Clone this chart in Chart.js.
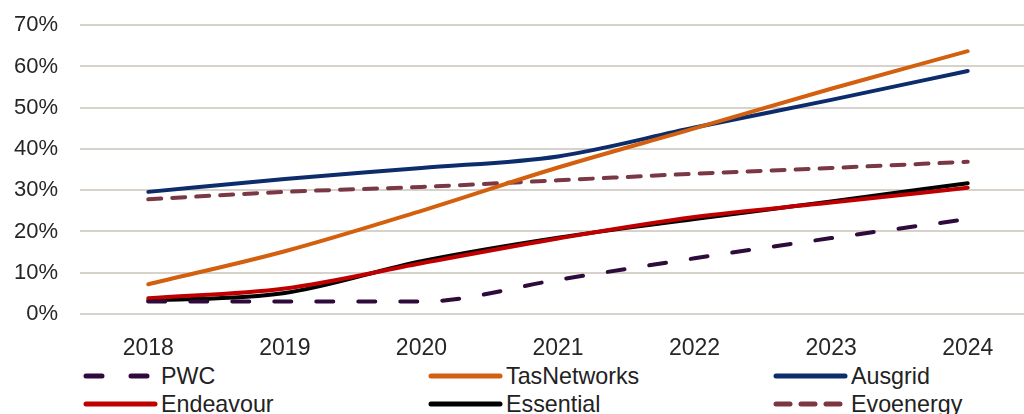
<!DOCTYPE html>
<html>
<head>
<meta charset="utf-8">
<script src="https://cdn.jsdelivr.net/npm/chart.js@4"></script>
<style>
  html, body { margin: 0; padding: 0; background: #fff; overflow: hidden; }
  #wrap { position: relative; width: 1040px; height: 414px; }
  #box { position: absolute; left: 0; top: -10px; width: 1040px; height: 370px; }
  .lg { position: absolute; height: 24px; font-family: 'Liberation Sans', Arial, sans-serif;
        font-size: 24px; color: #222; line-height: 24px; white-space: nowrap; }
  .lg svg { position: absolute; left: 0; top: 0; }
  .lg span { position: absolute; top: 0; transform: scaleX(0.97); transform-origin: left center; }
</style>
</head>
<body>
<div id="wrap">
  <div id="box"><canvas id="lineChart"></canvas></div>
  <div id="legend"></div>
</div>
<script>
// Years on the x axis
const years = ['2018', '2019', '2020', '2021', '2022', '2023', '2024'];

// Series values (%)
const pwc        = [3.0, 3.0, 3.0, 8.3, 13.5, 18.4, 23.0];
const tasNetworks = [7.2, 15.2, 25.0, 35.5, 45.0, 54.6, 63.7];
const ausgrid    = [29.6, 32.7, 35.4, 38.2, 45.2, 51.9, 58.9];
const endeavour  = [3.8, 6.2, 12.3, 18.3, 23.5, 27.0, 30.6];
const essential  = [3.2, 5.1, 12.8, 18.5, 23.0, 27.3, 31.7];
const evoenergy  = [27.8, 29.6, 30.8, 32.4, 34.0, 35.4, 36.9];

// y axis ticks
const yTicks = [0, 10, 20, 30, 40, 50, 60, 70];

const series = [
    { label: 'PWC', data: pwc, color: '#2E0B3B', dash: [17, 25] },
    { label: 'TasNetworks', data: tasNetworks, color: '#D2600E', dash: [] },
    { label: 'Ausgrid', data: ausgrid, color: '#0C2C6C', dash: [] },
    { label: 'Endeavour', data: endeavour, color: '#C00000', dash: [] },
    { label: 'Essential', data: essential, color: '#000000', dash: [] },
    { label: 'Evoenergy', data: evoenergy, color: '#7A3845', dash: [13, 11] }
];

const fontFamily = "'Liberation Sans', Arial, sans-serif";

new Chart(document.getElementById('lineChart'), {
    type: 'line',
    data: {
        labels: years,
        datasets: series.map(s => ({
            label: s.label,
            data: s.data,
            borderColor: s.color,
            backgroundColor: s.color,
            borderWidth: 4,
            borderDash: s.dash,
            borderCapStyle: 'round',
            pointRadius: 0,
            cubicInterpolationMode: 'monotone',
            fill: false
        }))
    },
    options: {
        responsive: true,
        maintainAspectRatio: false,
        animation: false,
        layout: { padding: { top: 12, right: 4, left: 0, bottom: 0 } },
        plugins: {
            legend: { display: false },
            tooltip: { enabled: false }
        },
        scales: {
            x: {
                offset: true,
                grid: { display: false },
                border: { display: false },
                ticks: { font: { family: fontFamily, size: 23 }, color: '#262626', padding: 13, maxRotation: 0 },
                afterFit: function(scale) { scale.height = 46; }
            },
            y: {
                min: 0,
                max: 70,
                afterBuildTicks: function(scale) {
                    scale.ticks = yTicks.map(v => ({ value: v }));
                },
                grid: { color: '#D8D2CC', lineWidth: 2, drawTicks: false },
                border: { display: false },
                ticks: {
                    font: { family: fontFamily, size: 22 },
                    color: '#262626',
                    padding: 22,
                    callback: function(value) { return value + '%'; }
                },
                afterFit: function(scale) { scale.width = 80; }
            }
        }
    }
});

// Legend laid out in three columns, two rows
const legendCols = [83, 428, 773];
const legendRows = [364, 392];
const legendEl = document.getElementById('legend');
series.forEach(function(s, i) {
    const item = document.createElement('div');
    item.className = 'lg';
    item.style.left = legendCols[i % 3] + 'px';
    item.style.top = legendRows[Math.floor(i / 3)] + 'px';
    let dash = '';
    let x2 = 72;
    if (s.label === 'PWC') { dash = 'stroke-dasharray="16 29"'; x2 = 68; }
    if (s.label === 'Evoenergy') { dash = 'stroke-dasharray="14 11"'; x2 = 68; }
    item.innerHTML =
        '<svg width="80" height="24"><line x1="3" y1="12" x2="' + x2 +
        '" y2="12" stroke="' + s.color + '" stroke-width="5" stroke-linecap="round" ' + dash + '/></svg>' +
        '<span style="left:78px">' + s.label + '</span>';
    legendEl.appendChild(item);
});
</script>
</body>
</html>
